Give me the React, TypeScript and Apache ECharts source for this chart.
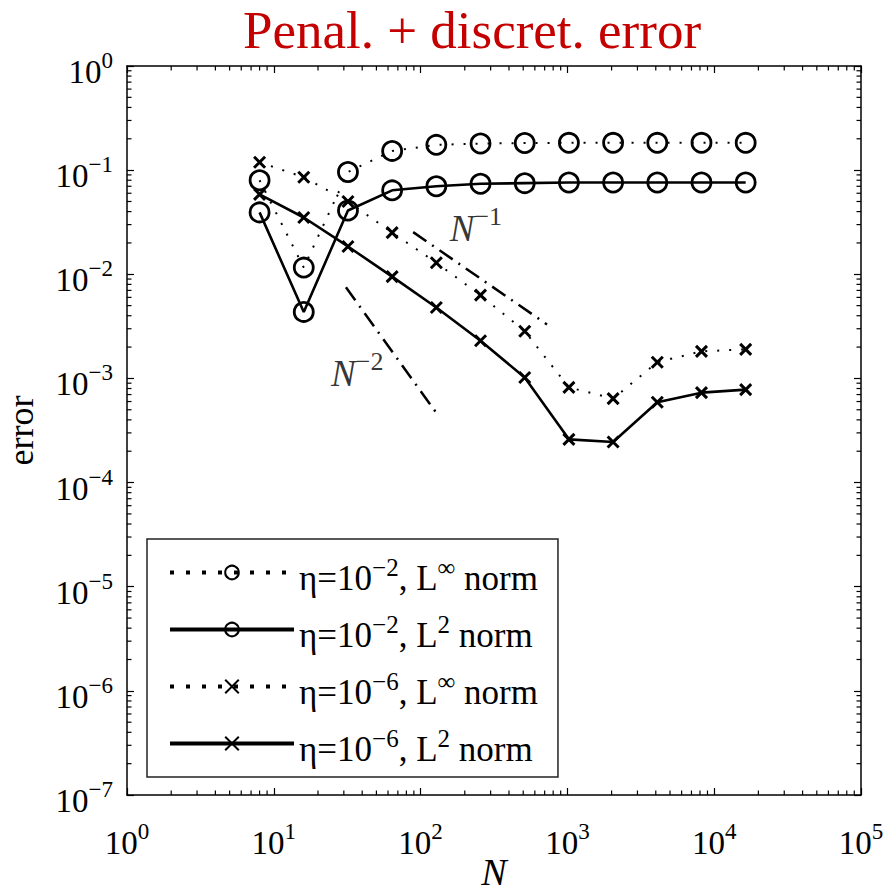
import React, { useEffect, useRef } from 'react';
import * as echarts from 'echarts';

// ---------- data ----------
const N = [8, 16, 32, 64, 128, 256, 512, 1024, 2048, 4096, 8192, 16384];
const eta2Linf = [0.08, 0.0116, 0.096, 0.153, 0.175, 0.18, 0.182, 0.183, 0.183, 0.183, 0.183, 0.183];
const eta2L2 = [0.0393, 0.00435, 0.041, 0.064, 0.07, 0.074, 0.075, 0.076, 0.076, 0.076, 0.076, 0.076];
const eta6Linf = [0.119, 0.0855, 0.05, 0.0251, 0.0129, 0.0063, 0.00284, 0.00082, 0.00064, 0.00143, 0.00182, 0.0019];
const eta6L2 = [0.0586, 0.0351, 0.0185, 0.0095, 0.0048, 0.0023, 0.00102, 0.00026, 0.000245, 0.00059, 0.00073, 0.00078];

const slope1N = [89, 726];
const slope1Err = [0.0254, 0.0033];
const slope2N = [31, 129];
const slope2Err = [0.0075, 0.00046];

const slope1Label = [238, 0.0317];
const slope2Label = [37, 0.00128];

const seriesNames = [
  'η=10−2, L∞ norm',
  'η=10−2, L2 norm',
  'η=10−6, L∞ norm',
  'η=10−6, L2 norm',
];
const legendRich = [
  '{b|η=10}{s|−2}{b|, L}{s|∞}{b| norm}',
  '{b|η=10}{s|−2}{b|, L}{s|2}{b| norm}',
  '{b|η=10}{s|−6}{b|, L}{s|∞}{b| norm}',
  '{b|η=10}{s|−6}{b|, L}{s|2}{b| norm}',
];

const X_MIN = 1;
const X_MAX = 1e5;
const Y_MIN = 1e-7;
const Y_MAX = 1;
const xDecades = [0, 1, 2, 3, 4];
const yDecades = [-7, -6, -5, -4, -3, -2, -1];
const minorMultipliers = [2, 3, 4, 5, 6, 7, 8, 9];

const FONT = '"Liberation Serif", "Times New Roman", Times, serif';
const TITLE_COLOR = '#c40000';

const xMinor: number[] = [];
xDecades.forEach((d) => minorMultipliers.forEach((k) => xMinor.push(+(k * Math.pow(10, d)).toPrecision(6))));
const yMinor: number[] = [];
yDecades.forEach((d) => minorMultipliers.forEach((k) => yMinor.push(+(k * Math.pow(10, d)).toPrecision(6))));

const richBase = {
  b: { fontSize: 33, lineHeight: 34, padding: [12, 0, 0, 0], fontFamily: FONT, color: '#000' },
  s: { fontSize: 23, lineHeight: 23, verticalAlign: 'top', fontFamily: FONT, color: '#000' },
};
const richLegend = {
  b: { fontSize: 35, lineHeight: 35, padding: [12, 0, 0, 0], fontFamily: FONT, color: '#000' },
  s: { fontSize: 25, lineHeight: 25, verticalAlign: 'top', fontFamily: FONT, color: '#000' },
};

const powLabel = (v: number) => {
  const e = Math.round(Math.log10(v));
  const s = e < 0 ? '−' + -e : String(e);
  return `{b|10}{s|${s}}`;
};

const MAJOR = 7;
const MINOR = 4.5;

export default function App() {
  const ref = useRef<HTMLDivElement>(null);
  useEffect(() => {
    document.body.style.margin = '0';
    if (!ref.current) return;
    const chart = echarts.init(ref.current, undefined, { renderer: 'svg' });

    const axisLine = { show: true, onZero: false, lineStyle: { color: '#000', width: 1.5 } };
    const xAxisBase = { type: 'log', logBase: 10, min: X_MIN, max: X_MAX, splitLine: { show: false } };
    const yAxisBase = { type: 'log', logBase: 10, min: Y_MIN, max: Y_MAX, splitLine: { show: false } };

    const symbolX = 'path://M0,0L10,10M10,0L0,10';

    const mkLine = (name: string, vals: number[], dotted: boolean, circle: boolean) => ({
      name,
      type: 'line',
      data: N.map((n, i) => [n, vals[i]]),
      symbol: circle ? 'circle' : symbolX,
      symbolSize: circle ? 19 : 11,
      showAllSymbol: true,
      itemStyle: { color: 'transparent', borderColor: '#000', borderWidth: circle ? 2.8 : 3 },
      lineStyle: { color: '#000', width: dotted ? 2 : 2.6, type: dotted ? [2, 10] : 'solid' },
      emphasis: { disabled: true },
      z: 3,
    });

    const option: any = {
      animation: false,
      title: {
        text: 'Penal. + discret. error',
        left: 472,
        top: 3,
        padding: 0,
        textAlign: 'center',
        textStyle: { fontFamily: FONT, fontSize: 53, fontWeight: 'normal', color: TITLE_COLOR },
      },
      grid: { left: 127, right: 24, top: 66, bottom: 98, containLabel: false, outerBoundsMode: 'none' },
      xAxis: [
        {
          ...xAxisBase,
          position: 'bottom',
          axisLine,
          axisTick: { show: true, inside: true, length: MAJOR, lineStyle: { color: '#000', width: 1.2 } },
          axisLabel: { show: true, margin: 25, formatter: powLabel, rich: richBase },
          name: 'N',
          nameLocation: 'middle',
          nameGap: 58,
          nameMoveOverlap: false,
          nameTextStyle: { fontFamily: FONT, fontSize: 38, fontStyle: 'italic', color: '#000' },
        },
        {
          ...xAxisBase,
          position: 'top',
          axisLine,
          axisTick: { show: true, inside: true, length: MAJOR, lineStyle: { color: '#000', width: 1.2 } },
          axisLabel: { show: false },
        },
      ],
      yAxis: [
        {
          ...yAxisBase,
          position: 'left',
          axisLine,
          axisTick: { show: true, inside: true, length: MAJOR, lineStyle: { color: '#000', width: 1.2 } },
          axisLabel: { show: true, margin: 14, formatter: powLabel, rich: richBase, align: 'right' },
          name: 'error',
          nameLocation: 'middle',
          nameGap: 88,
          nameMoveOverlap: false,
          nameRotate: 90,
          nameTextStyle: { fontFamily: FONT, fontSize: 36, color: '#000' },
        },
        {
          ...yAxisBase,
          position: 'right',
          axisLine,
          axisTick: { show: true, inside: true, length: MAJOR, lineStyle: { color: '#000', width: 1.2 } },
          axisLabel: { show: false },
        },
      ],
      legend: {
        orient: 'vertical',
        left: 147,
        top: 539,
        itemWidth: 124,
        itemHeight: 17,
        itemGap: 10,
        padding: [10, 20, 10, 21],
        borderColor: '#222',
        borderWidth: 1.5,
        backgroundColor: '#fff',
        selectedMode: false,
        data: seriesNames.map((name, i) => ({
          name,
          lineStyle: i % 2 === 0 ? { width: 4, type: [4, 12] } : { width: 4, type: 'solid' },
        })),
        formatter: (name: string) => legendRich[seriesNames.indexOf(name)],
        textStyle: { fontFamily: FONT, rich: richLegend },
      },
      series: [
        mkLine(seriesNames[0], eta2Linf, true, true),
        mkLine(seriesNames[1], eta2L2, false, true),
        mkLine(seriesNames[2], eta6Linf, true, false),
        mkLine(seriesNames[3], eta6L2, false, false),
        {
          name: 'slope1',
          type: 'line',
          data: slope1N.map((n, i) => [n, slope1Err[i]]),
          symbol: 'none',
          lineStyle: { color: '#000', width: 2.5, type: [16, 7, 2, 7] },
          emphasis: { disabled: true },
          z: 2,
        },
        {
          name: 'slope2',
          type: 'line',
          data: slope2N.map((n, i) => [n, slope2Err[i]]),
          symbol: 'none',
          lineStyle: { color: '#000', width: 2.5, type: [16, 7, 2, 7] },
          emphasis: { disabled: true },
          z: 2,
        },
        {
          name: 'slopeLabels',
          type: 'scatter',
          data: [
            { value: slope1Label, label: { formatter: '{n|N}{s|−1}' } },
            { value: slope2Label, label: { formatter: '{n|N}{s|−2}' } },
          ],
          symbolSize: 1,
          itemStyle: { color: 'transparent' },
          silent: true,
          label: {
            show: true,
            position: 'inside',
            color: '#000',
            rich: {
              n: { fontSize: 37, lineHeight: 37, padding: [12, 0, 0, 0], fontStyle: 'italic', fontFamily: FONT, color: '#000' },
              s: { fontSize: 26, lineHeight: 26, verticalAlign: 'top', fontFamily: FONT, color: '#000' },
            },
          },
          z: 4,
        },
        {
          name: 'xMinorTicks',
          type: 'custom',
          silent: true,
          clip: false,
          data: xMinor.map((v) => [v, Y_MIN]),
          renderItem: (_p: any, api: any) => {
            const v = api.value(0);
            const b = api.coord([v, Y_MIN]);
            const t = api.coord([v, Y_MAX]);
            const style = { stroke: '#000', lineWidth: 1.2 };
            return {
              type: 'group',
              children: [
                { type: 'line', shape: { x1: b[0], y1: b[1], x2: b[0], y2: b[1] - MINOR }, style },
                { type: 'line', shape: { x1: t[0], y1: t[1], x2: t[0], y2: t[1] + MINOR }, style },
              ],
            };
          },
          z: 1,
        },
        {
          name: 'yMinorTicks',
          type: 'custom',
          silent: true,
          clip: false,
          data: yMinor.map((v) => [X_MIN, v]),
          renderItem: (_p: any, api: any) => {
            const v = api.value(1);
            const l = api.coord([X_MIN, v]);
            const r = api.coord([X_MAX, v]);
            const style = { stroke: '#000', lineWidth: 1.2 };
            return {
              type: 'group',
              children: [
                { type: 'line', shape: { x1: l[0], y1: l[1], x2: l[0] + MINOR, y2: l[1] }, style },
                { type: 'line', shape: { x1: r[0], y1: r[1], x2: r[0] - MINOR, y2: r[1] }, style },
              ],
            };
          },
          z: 1,
        },
      ],
    };
    chart.setOption(option);
    return () => chart.dispose();
  }, []);
  return <div ref={ref} style={{ width: 885, height: 893 }} />;
}
